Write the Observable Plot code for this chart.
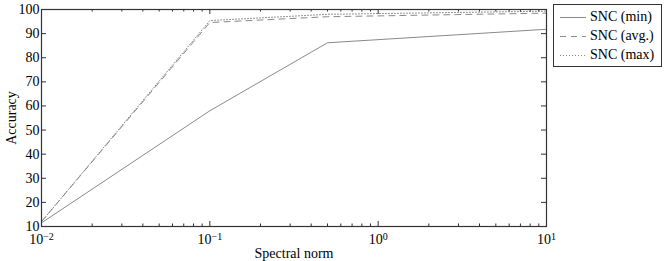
<!DOCTYPE html>
<html>
<head>
<meta charset="utf-8">
<script src="https://cdn.jsdelivr.net/npm/d3@7"></script>
<script src="https://cdn.jsdelivr.net/npm/@observablehq/plot@0.6"></script>
<style>
  html, body { margin: 0; padding: 0; background: #fff; }
  #wrap { position: relative; width: 665px; height: 261px; font-family: "Liberation Serif", "DejaVu Serif", serif; }
  #legend { position: absolute; left: 553px; top: 4px; width: 109px; height: 63px; border: 1px solid #333; background: #fff; box-sizing: border-box; }
  .lg { position: absolute; left: 0; height: 18px; width: 100%; font-size: 14px; color: #000; }
  .lg svg { position: absolute; left: 6px; top: 0; }
  .lg span { position: absolute; left: 36px; top: 1px; white-space: nowrap; }
</style>
</head>
<body>
<div id="wrap"></div>
<script>
// Data
const xValues = [0.01, 0.1, 0.5, 10];
const sncMin = [11.5, 58, 86.2, 91.8];
const sncAvg = [12, 94.6, 97, 98.5];
const sncMax = [12, 95.4, 98, 99.3];
const seriesNames = ["SNC (min)", "SNC (avg.)", "SNC (max)"];
const xTickValues = [0.01, 0.1, 1, 10];
const xTickExponents = ["−2", "−1", "0", "1"];
const yTickValues = [10, 20, 30, 40, 50, 60, 70, 80, 90, 100];

const W = 665, H = 261;
const mL = 41, mR = 119, mT = 9, mB = 35;
const fw = W - mL - mR, fh = H - mT - mB;

const rows = [];
[sncMin, sncAvg, sncMax].forEach((vals, i) => {
  vals.forEach((v, j) => rows.push({series: seriesNames[i], x: xValues[j], y: v}));
});
const minorTicks = [];
for (const d of [0.01, 0.1, 1]) for (let k = 2; k <= 9; k++) minorTicks.push(d * k);

const expOf = new Map(xTickValues.map((v, i) => [v, xTickExponents[i]]));

const lineColor = "#8a8a8a";
const dashes = {"SNC (min)": null, "SNC (avg.)": "6,5", "SNC (max)": "1,2"};

const marks = [];
for (const s of seriesNames) {
  marks.push(Plot.line(rows.filter(r => r.series === s), {x: "x", y: "y", stroke: lineColor, strokeWidth: 1, strokeDasharray: dashes[s]}));
}
// inward ticks
marks.push(Plot.ruleX(xTickValues, {x: d => d, insetTop: fh - 5, stroke: "#333"}));
marks.push(Plot.ruleX(xTickValues, {x: d => d, insetBottom: fh - 5, stroke: "#333"}));
marks.push(Plot.ruleX(minorTicks, {x: d => d, insetTop: fh - 2.5, stroke: "#333"}));
marks.push(Plot.ruleX(minorTicks, {x: d => d, insetBottom: fh - 2.5, stroke: "#333"}));
marks.push(Plot.ruleY(yTickValues, {y: d => d, insetRight: fw - 5, stroke: "#333"}));
marks.push(Plot.ruleY(yTickValues, {y: d => d, insetLeft: fw - 5, stroke: "#333"}));
marks.push(Plot.frame({stroke: "#333", strokeWidth: 1.2}));
marks.push(Plot.axisX(xTickValues, {tickSize: 0, tickPadding: 8, tickFormat: d => "10^" + expOf.get(d), label: "Spectral norm", labelAnchor: "center", labelArrow: false, labelOffset: 31, fontSize: 14}));
marks.push(Plot.axisY(yTickValues, {tickSize: 0, tickPadding: 2, label: "Accuracy", labelAnchor: "center", labelArrow: false, labelOffset: 35, fontSize: 14}));

const svg = Plot.plot({
  width: W, height: H,
  marginLeft: mL, marginRight: mR, marginTop: mT, marginBottom: mB,
  style: {fontFamily: "Liberation Serif, DejaVu Serif, serif", fontSize: "14px", color: "#000", background: "#fff"},
  x: {type: "log", domain: [0.01, 10]},
  y: {type: "linear", domain: [10, 100]},
  marks
});
document.getElementById("wrap").appendChild(svg);

// superscript exponents on the x tick labels
d3.select(svg).selectAll("text").each(function() {
  const t = this.textContent;
  if (/^10\^/.test(t)) {
    const exp = t.slice(3);
    const sel = d3.select(this);
    sel.text(null);
    sel.append("tspan").text("10");
    sel.append("tspan").attr("dy", "-0.45em").attr("font-size", "10px").text(exp);
  }
});

// legend
const legend = document.createElement("div");
legend.id = "legend";
seriesNames.forEach((s, i) => {
  const row = document.createElement("div");
  row.className = "lg";
  row.style.top = (3 + i * 19) + "px";
  const dash = dashes[s] ? `stroke-dasharray="${dashes[s]}"` : "";
  row.innerHTML = `<svg width="26" height="18"><line x1="0" x2="26" y1="9.5" y2="9.5" stroke="${lineColor}" stroke-width="1" ${dash}/></svg><span>${s}</span>`;
  legend.appendChild(row);
});
document.getElementById("wrap").appendChild(legend);
</script>
</body>
</html>
